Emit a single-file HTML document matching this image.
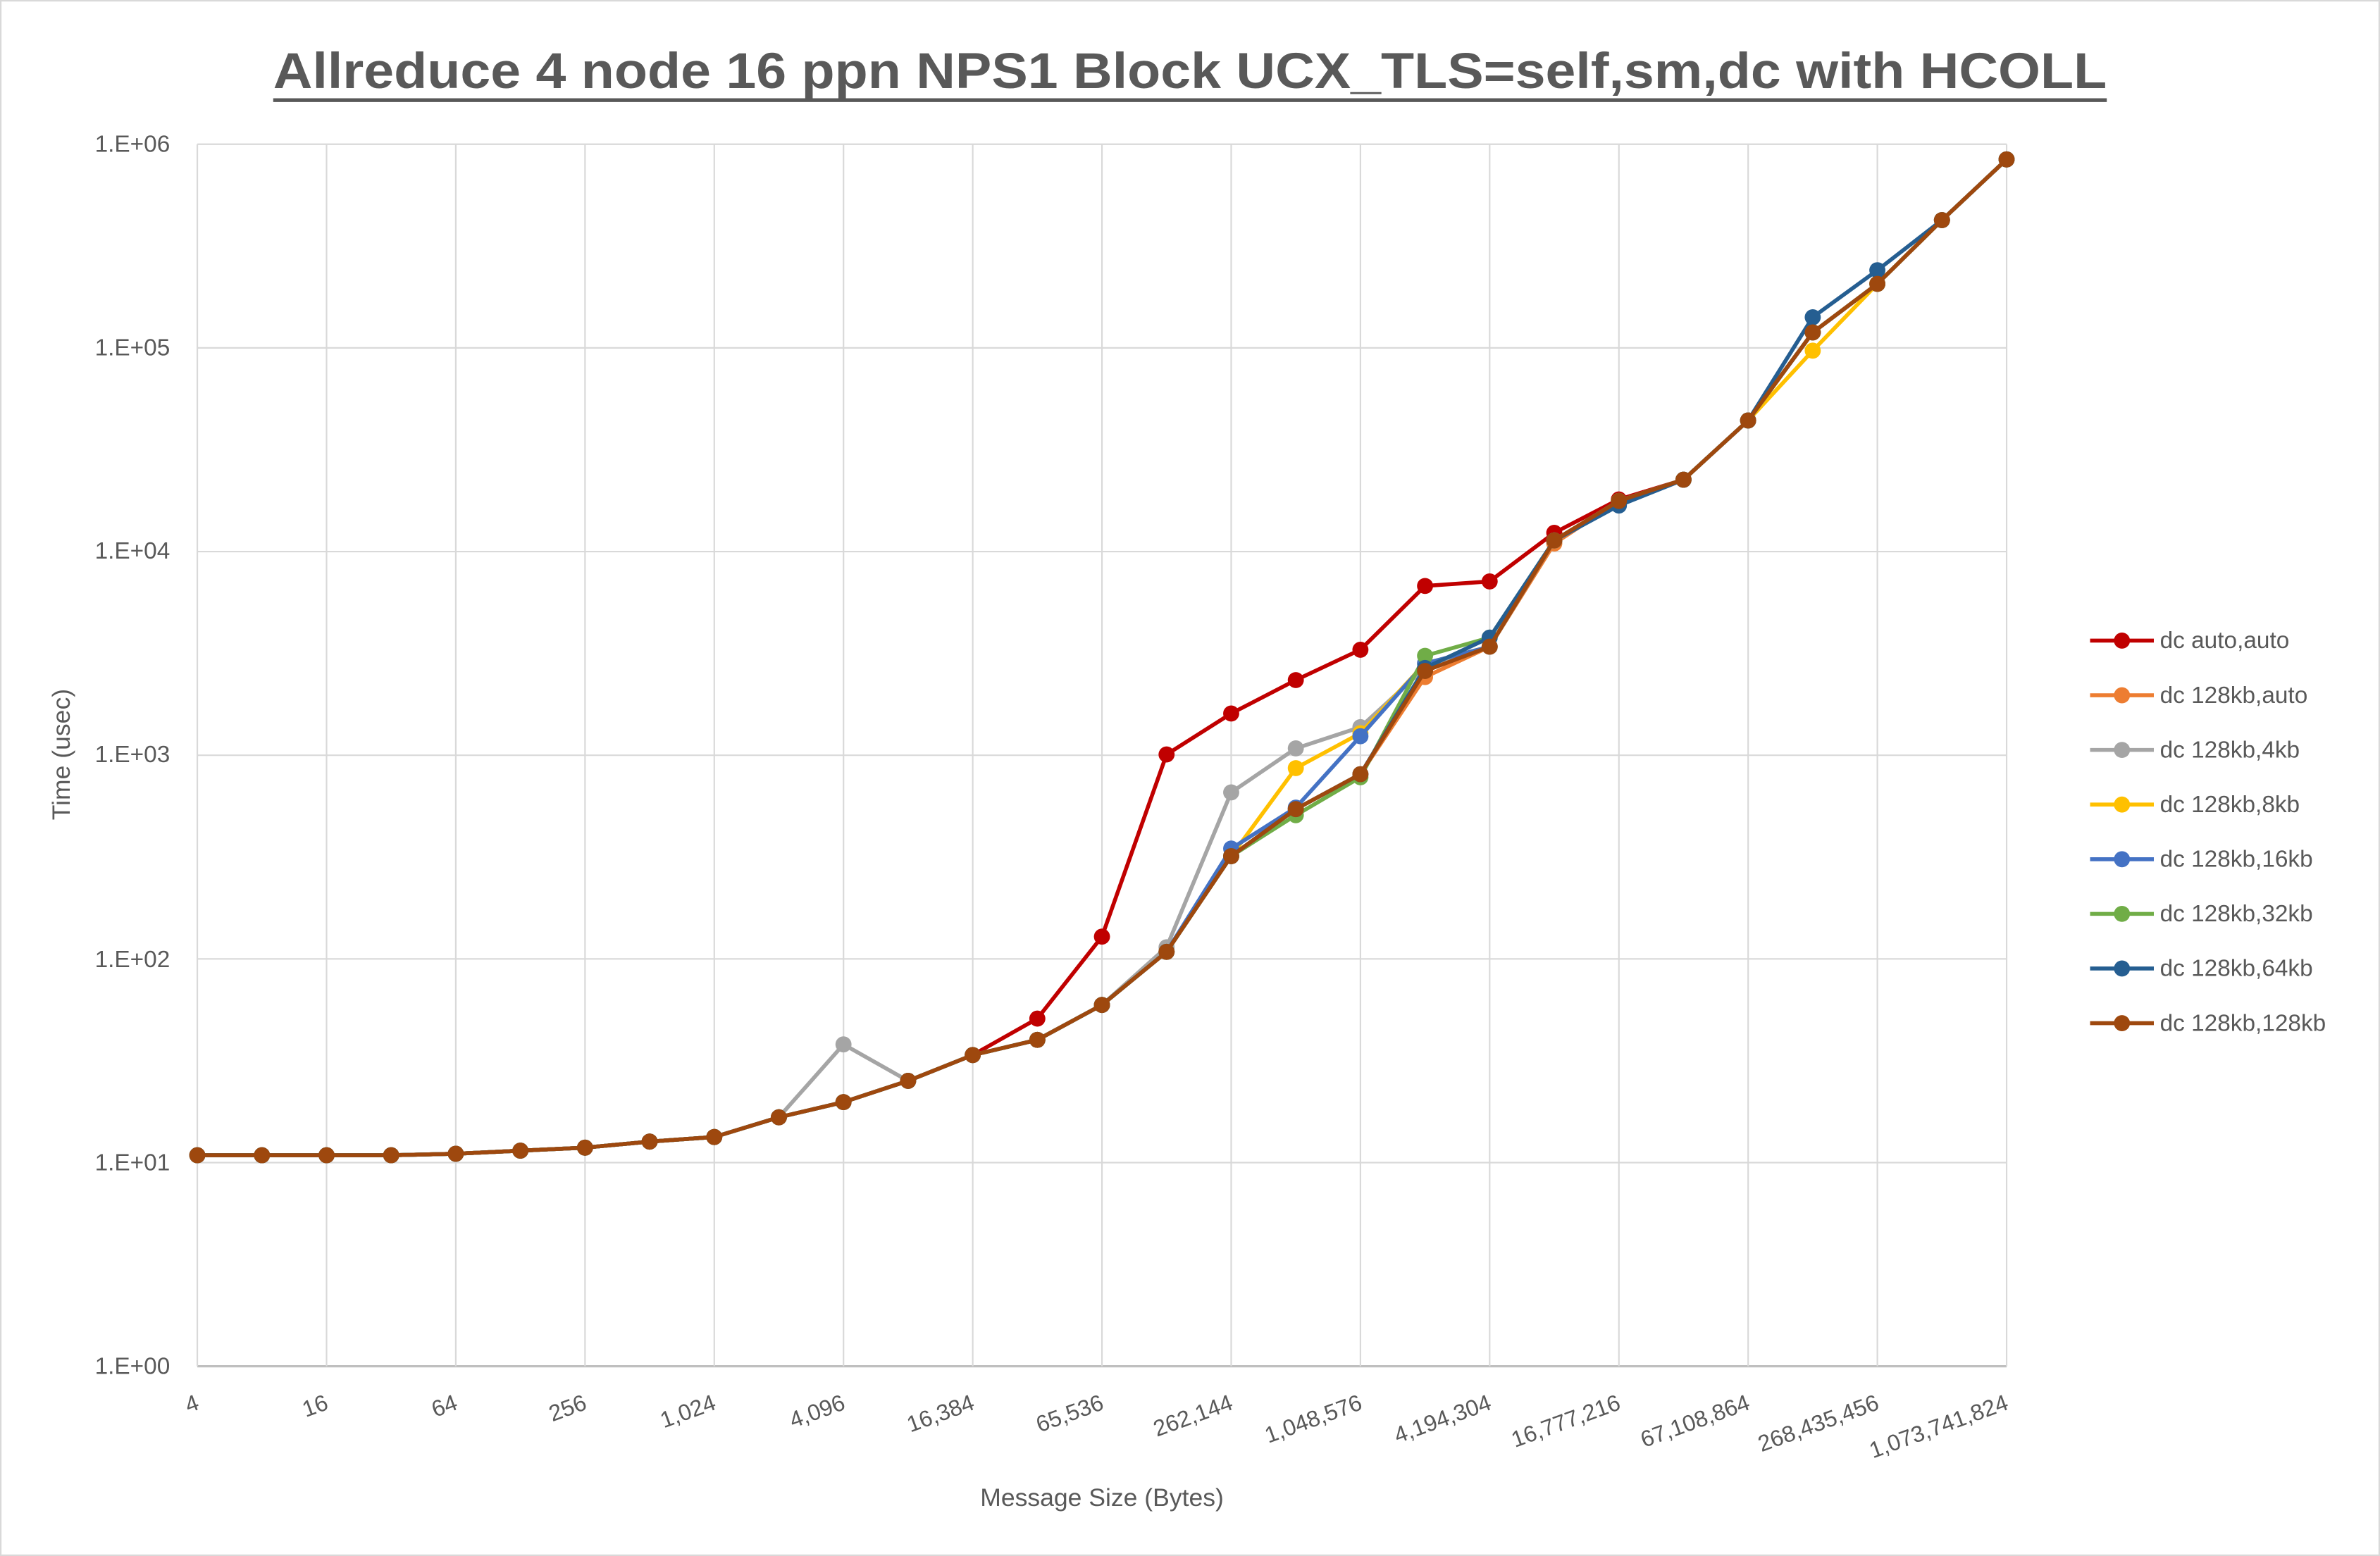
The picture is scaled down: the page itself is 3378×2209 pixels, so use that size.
<!DOCTYPE html>
<html><head><meta charset="utf-8"><style>html,body{margin:0;padding:0;background:#fff}svg{display:block}</style></head>
<body>
<svg id="s" width="3378" height="2209" viewBox="0 0 1568 1025" preserveAspectRatio="none" xmlns="http://www.w3.org/2000/svg" font-family="'Liberation Sans', sans-serif">
<rect x="0.5" y="0.5" width="1567" height="1024" fill="#fff" stroke="#d9d9d9" stroke-width="1"/>
<text x="180" y="58" font-size="33" font-weight="bold" fill="#595959" textLength="1208" lengthAdjust="spacingAndGlyphs">Allreduce 4 node 16 ppn NPS1 Block UCX_TLS=self,sm,dc with HCOLL</text>
<line x1="180" y1="66" x2="1388" y2="66" stroke="#595959" stroke-width="2.5"/>
<g id="grid" stroke="#d9d9d9" stroke-width="1"></g>
<g font-size="15.5" fill="#595959" text-anchor="end">
<text x="112" y="100">1.E+06</text>
<text x="112" y="234">1.E+05</text>
<text x="112" y="368">1.E+04</text>
<text x="112" y="502">1.E+03</text>
<text x="112" y="637">1.E+02</text>
<text x="112" y="771">1.E+01</text>
<text x="112" y="905">1.E+00</text>
</g>
<g id="xl" font-size="15" fill="#595959" text-anchor="end"></g>
<text transform="translate(46,497) rotate(-90)" text-anchor="middle" font-size="16.5" fill="#595959">Time (usec)</text>
<text x="726" y="992" text-anchor="middle" font-size="16.5" fill="#595959">Message Size (Bytes)</text>
<g id="series"></g>
<g id="leg" font-size="15.5" fill="#595959">
<text x="1423" y="427">dc auto,auto</text>
<text x="1423" y="463">dc 128kb,auto</text>
<text x="1423" y="499">dc 128kb,4kb</text>
<text x="1423" y="535">dc 128kb,8kb</text>
<text x="1423" y="571">dc 128kb,16kb</text>
<text x="1423" y="607">dc 128kb,32kb</text>
<text x="1423" y="643">dc 128kb,64kb</text>
<text x="1423" y="679">dc 128kb,128kb</text>
</g>
</svg>
<script>
var NS="http://www.w3.org/2000/svg",s=document.getElementById('s');
function el(p,t,a){var e=document.createElementNS(NS,t);for(var k in a)e.setAttribute(k,a[k]);p.appendChild(e);return e;}
var g=document.getElementById('grid');
for(var i=0;i<7;i++){var y=95+i*134.17;el(g,'line',{x1:130,x2:1322,y1:y,y2:y,stroke:i==6?'#bfbfbf':'#d9d9d9','stroke-width':i==6?1.5:1});}
for(var i=0;i<15;i++){var x=130+i*85.143;el(g,'line',{x1:x,x2:x,y1:95,y2:900});}
var labs=["4","16","64","256","1,024","4,096","16,384","65,536","262,144","1,048,576","4,194,304","16,777,216","67,108,864","268,435,456","1,073,741,824"];
var xl=document.getElementById('xl');
labs.forEach(function(t,i){var x=130+i*85.143+2;var e=el(xl,'text',{transform:'translate('+x+',928) rotate(-20)'});e.textContent=t;});
var B=[761,761,761,761,760,758,756,752,749,736,726,712,695,685,662,627,564,533,510,442,426,356,330,316,277,219,187,145,105];
function mod(o){var a=B.slice();for(var k in o)a[k]=o[k];return a;}
var S=[
['#c00000',mod({13:671,14:617,15:497,16:470,17:448,18:428,19:386,20:383,21:351,22:329})],
['#ed7d31',mod({19:446,20:426,21:358})],
['#a5a5a5',mod({10:688,15:624,16:522,17:493,18:479,19:440})],
['#ffc000',mod({17:506,18:483,19:437,25:231})],
['#4472c4',mod({16:559,17:532,18:485,19:437})],
['#70ad47',mod({17:537,18:512,19:432,20:420})],
['#255e91',mod({19:440,20:420,22:333,25:209,26:178})],
['#9e480e',B]];
var sg=document.getElementById('series');
S.forEach(function(sr,j){var c=sr[0],d=sr[1];var p='';d.forEach(function(y,i){p+=(i?'L':'M')+(130+i*42.571)+' '+y;});
el(sg,'path',{d:p,fill:'none',stroke:c,'stroke-width':2.6,'stroke-linejoin':'round'});
d.forEach(function(y,i){el(sg,'circle',{cx:130+i*42.571,cy:y,r:5.3,fill:c});});
var ly=422+j*36;el(sg,'line',{x1:1377,x2:1419,y1:ly,y2:ly,stroke:c,'stroke-width':2.6});el(sg,'circle',{cx:1398,cy:ly,r:5.3,fill:c});});
</script>
</body></html>
